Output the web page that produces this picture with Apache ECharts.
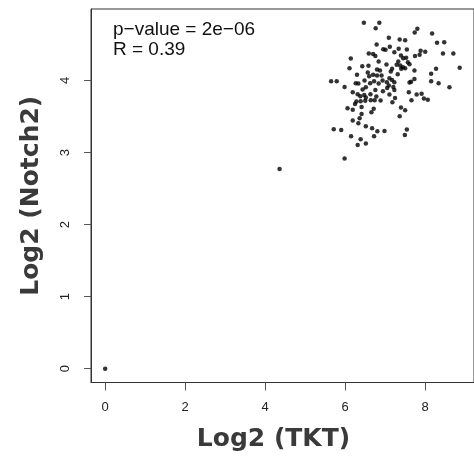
<!DOCTYPE html>
<html><head><meta charset="utf-8">
<script src="https://cdn.jsdelivr.net/npm/echarts@6/dist/echarts.min.js"></script>
<style>html,body{margin:0;padding:0;background:#fff}#c{width:474px;height:464px}</style>
</head><body><div id="c"></div>
<script>
const tktValues = [
6.467,6.853,6.762,7.091,6.786,7.116,6.951,7.008,7.229,6.590,6.698,6.754,6.140,6.836,7.032,6.427,6.582,6.108,6.796,6.870,
7.172,7.140,6.565,6.295,6.698,6.796,6.909,6.600,7.106,7.172,5.648,5.788,6.484,6.722,6.934,7.042,7.229,6.263,6.329,6.624,
6.836,7.091,5.985,6.516,6.435,6.754,7.049,7.204,6.189,6.312,6.631,6.477,6.944,7.229,6.378,6.516,6.779,7.106,7.246,6.280,
6.386,6.501,6.639,6.737,6.885,7.180,6.245,6.059,6.189,6.410,6.713,6.656,6.410,6.189,6.361,6.329,6.516,6.673,6.804,5.714,
5.901,6.983,6.147,6.722,6.386,6.516,6.312,5.985,
7.804,7.738,8.173,7.362,7.499,8.296,8.476,7.337,7.541,7.885,8.001,7.861,7.745,8.444,8.704,7.394,7.450,7.524,7.327,7.566,
7.608,7.288,7.377,7.443,7.499,7.401,7.731,8.272,8.862,7.313,8.149,7.731,7.647,7.608,8.149,8.335,8.606,7.590,7.787,7.910,
7.967,8.065,7.657,7.394,7.499,7.362,7.541,7.492,
4.36,0.0
];
const notch2Values = [
4.800,4.800,4.726,4.592,4.500,4.467,4.435,4.425,4.393,4.375,4.369,4.338,4.306,4.264,4.222,4.199,4.203,4.171,4.153,4.139,
4.161,4.125,4.111,4.078,4.078,4.069,4.069,4.060,4.032,4.008,3.990,3.990,4.000,3.990,4.000,3.976,3.976,3.963,3.958,3.963,
3.958,3.931,3.911,3.907,3.875,3.869,3.897,3.911,3.838,3.810,3.810,3.800,3.851,3.869,3.782,3.764,3.778,3.806,3.758,3.708,
3.713,3.717,3.726,3.726,3.722,3.699,3.675,3.615,3.592,3.633,3.606,3.560,3.536,3.444,3.476,3.407,3.365,3.338,3.296,3.324,
3.314,3.300,3.226,3.226,3.185,3.125,3.106,2.917,
4.717,4.667,4.653,4.569,4.560,4.522,4.532,4.439,4.431,4.411,4.397,4.356,4.338,4.375,4.375,4.347,4.310,4.314,4.264,4.254,
4.226,4.217,4.208,4.185,4.171,4.161,4.139,4.161,4.175,4.088,4.092,4.022,3.981,3.972,3.990,3.963,3.907,3.838,3.806,3.814,
3.750,3.731,3.726,3.625,3.588,3.504,3.319,3.244,
2.77,0.0
];
const xTicks = [0, 2, 4, 6, 8];
const yTicks = [0, 1, 2, 3, 4];
const xTitle = 'Log2 (TKT)';
const yTitle = 'Log2 (Notch2)';
const statLines = ['p\u2212value = 2e\u221206', 'R = 0.39'];

const points = tktValues.map((x, i) => [x, notch2Values[i]]);
const chart = echarts.init(document.getElementById('c'), null, {renderer: 'canvas'});
const labelFont = 'Liberation Sans, Arial, sans-serif';
const titleFont = 'DejaVu Sans, sans-serif';
chart.setOption({
  animation: false,
  backgroundColor: '#fff',
  grid: {left: 91, top: 9, width: 389, height: 373.5, show: true, borderColor: '#333', borderWidth: 1, containLabel: false},
  xAxis: {
    type: 'value', min: -0.354, max: 9.22,
    axisLine: {show: true, onZero: false, lineStyle: {color: '#333', width: 1}},
    axisTick: {show: true, customValues: xTicks, length: 8, lineStyle: {color: '#555'}},
    axisLabel: {customValues: xTicks, margin: 18, fontSize: 13, color: '#222', fontFamily: labelFont},
    splitLine: {show: false},
    name: xTitle, nameLocation: 'middle', nameGap: 44,
    nameTextStyle: {fontSize: 25, fontWeight: 'bold', color: '#3a3a3a', fontFamily: titleFont, padding: [0, 18, 0, 0]}
  },
  yAxis: {
    type: 'value', min: -0.192, max: 4.992,
    axisLine: {show: true, onZero: false, lineStyle: {color: '#333', width: 1}},
    axisTick: {show: true, customValues: yTicks, length: 7, lineStyle: {color: '#555'}},
    axisLabel: {customValues: yTicks, margin: 19, rotate: 90, fontSize: 13, color: '#222', fontFamily: labelFont},
    splitLine: {show: false},
    name: yTitle, nameLocation: 'middle', nameGap: 47,
    nameTextStyle: {fontSize: 25, fontWeight: 'bold', color: '#3a3a3a', fontFamily: titleFont}
  },
  graphic: [
    {type: 'text', left: 113, top: 20, style: {text: statLines[0], fontSize: 19, fontFamily: labelFont, fill: '#111'}},
    {type: 'text', left: 113, top: 40, style: {text: statLines[1], fontSize: 19, fontFamily: labelFont, fill: '#111'}}
  ],
  series: [{
    type: 'scatter', data: points, symbol: 'circle', symbolSize: 4.5,
    itemStyle: {color: '#000'}, silent: true
  }]
});
</script>
</body></html>
